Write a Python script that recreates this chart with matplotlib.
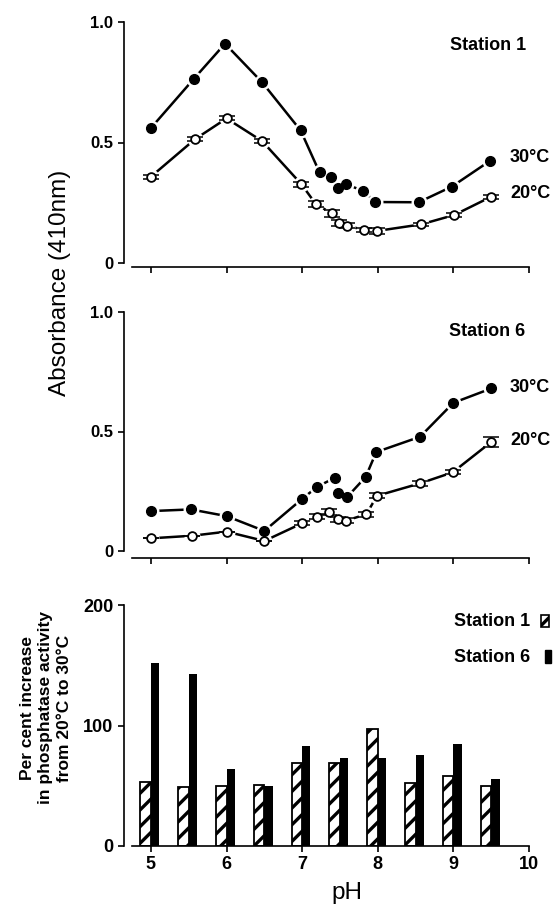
import numpy as np
import matplotlib.pyplot as plt
from matplotlib.patches import Rectangle

plt.rcParams['font.family'] = ['Liberation Sans', 'DejaVu Sans']
plt.rcParams['hatch.linewidth'] = 2.4

# Station 1 absorbance (410nm)
ph_s1_30 = [5.0, 5.57, 5.98, 6.47, 6.98, 7.23, 7.38, 7.48, 7.58, 7.8, 7.97, 8.54, 8.98, 9.49]
s1_30 = [0.56, 0.765, 0.91, 0.75, 0.55, 0.376, 0.358, 0.31, 0.327, 0.30, 0.253, 0.252, 0.317, 0.425]
ph_s1_20 = [5.0, 5.58, 6.0, 6.47, 6.99, 7.18, 7.39, 7.49, 7.59, 7.82, 7.99, 8.57, 9.01, 9.5]
s1_20 = [0.358, 0.513, 0.60, 0.506, 0.327, 0.245, 0.206, 0.167, 0.155, 0.137, 0.133, 0.16, 0.199, 0.275]
s1_20_err = [0.008, 0.008, 0.008, 0.01, 0.01, 0.012, 0.015, 0.012, 0.01, 0.008, 0.012, 0.008, 0.008, 0.008]

# Station 6 absorbance (410nm)
ph_s6_30 = [5.0, 5.53, 6.0, 6.5, 7.0, 7.2, 7.43, 7.48, 7.59, 7.84, 7.98, 8.56, 9.0, 9.5]
s6_30 = [0.167, 0.174, 0.146, 0.084, 0.218, 0.269, 0.306, 0.243, 0.224, 0.31, 0.414, 0.478, 0.62, 0.68]
ph_s6_20 = [5.0, 5.55, 6.0, 6.5, 7.0, 7.2, 7.36, 7.48, 7.58, 7.85, 7.99, 8.56, 8.99, 9.5]
s6_20 = [0.053, 0.064, 0.081, 0.042, 0.116, 0.144, 0.164, 0.133, 0.127, 0.154, 0.231, 0.283, 0.329, 0.456]
s6_20_err = [0, 0, 0, 0, 0.008, 0.012, 0.012, 0.01, 0.01, 0.01, 0.01, 0.01, 0.008, 0.022]

# per cent increase 20C -> 30C
ph_bars = [5.0, 5.5, 6.0, 6.5, 7.0, 7.5, 8.0, 8.5, 9.0, 9.5]
inc_s1 = [53, 49, 50, 50.5, 69, 68.5, 97.5, 52, 58, 50]
inc_s6 = [152, 142.5, 64, 50, 83, 73, 73, 75.5, 85, 56]

W, H = 559, 911
fig = plt.figure(figsize=(W / 100, H / 100), dpi=100)


def px_axes(top, bottom):
    return fig.add_axes([132 / W, 1 - bottom / H, 397 / W, (bottom - top) / H])


def style_axes(ax, yoff):
    ax.spines['top'].set_visible(False)
    ax.spines['right'].set_visible(False)
    ax.spines['left'].set_position(('outward', 6))
    ax.spines['bottom'].set_position(('outward', yoff))
    for s in ['left', 'bottom']:
        ax.spines[s].set_linewidth(1.2)
    ax.tick_params(direction='out', length=4, width=1.2)
    ax.set_xlim(4.75, 10.0)
    ax.set_xticks([5, 6, 7, 8, 9, 10])


def curve(ax, x, y, filled, err=None):
    ax.plot(x, y, '-', color='black', lw=1.8, zorder=1)
    ax.plot(x, y, 'o', color='white', ms=10.5, zorder=2)
    if err is not None:
        ax.errorbar(x, y, yerr=err, fmt='none', ecolor='black', elinewidth=1.1,
                    capsize=6, capthick=1.1, zorder=3)
    if filled:
        ax.plot(x, y, 'o', mfc='black', mec='black', ms=7, zorder=4)
    else:
        ax.plot(x, y, 'o', mfc='white', mec='black', mew=1.3, ms=6.3, zorder=4)


# top panel: station 1
ax1 = px_axes(22, 263)
style_axes(ax1, 3)
ax1.set_ylim(0, 1.0)
ax1.set_yticks([0, 0.5, 1.0])
ax1.set_yticklabels(['0', '0.5', '1.0'], fontsize=12, fontweight='bold')
ax1.set_xticklabels([])
curve(ax1, ph_s1_30, s1_30, True)
curve(ax1, ph_s1_20, s1_20, False, s1_20_err)

# middle panel: station 6
ax2 = px_axes(312, 551)
style_axes(ax2, 5)
ax2.set_ylim(0, 1.0)
ax2.set_yticks([0, 0.5, 1.0])
ax2.set_yticklabels(['0', '0.5', '1.0'], fontsize=12, fontweight='bold')
ax2.set_xticklabels([])
curve(ax2, ph_s6_30, s6_30, True)
curve(ax2, ph_s6_20, s6_20, False, s6_20_err)

# bottom panel: bars
ax3 = px_axes(605, 846)
style_axes(ax3, 0)
ax3.set_ylim(0, 200)
ax3.set_yticks([0, 100, 200])
ax3.set_yticklabels(['0', '100', '200'], fontsize=13, fontweight='bold')
ax3.set_xticklabels(['5', '6', '7', '8', '9', '10'], fontsize=13, fontweight='bold')
ax3.bar(np.array(ph_bars) - 0.14, inc_s1, width=0.14, align='edge',
        facecolor='white', edgecolor='black', hatch='//', linewidth=1.3)
ax3.bar(ph_bars, inc_s6, width=0.11, align='edge', color='black')

# text
fig.text(60 / W, 1 - 283 / H, 'Absorbance (410nm)', rotation=90, fontsize=17.5,
         ha='center', va='center')
fig.text(347 / W, 1 - 893 / H, 'pH', fontsize=17.5, ha='center', va='center')
fig.text(46 / W, 1 - 708 / H, 'Per cent increase\nin phosphatase activity\nfrom 20°C to 30°C',
         rotation=90, fontsize=12.5, fontweight='bold', ha='center', va='center',
         multialignment='center', linespacing=1.3)

bold = dict(fontsize=13, fontweight='bold', va='center')
fig.text(488 / W, 1 - 46 / H, 'Station 1', ha='center', **bold)
fig.text(510 / W, 1 - 157 / H, '30°C', ha='left', **bold)
fig.text(510 / W, 1 - 193 / H, '20°C', ha='left', **bold)
fig.text(487 / W, 1 - 332 / H, 'Station 6', ha='center', **bold)
fig.text(510 / W, 1 - 387 / H, '30°C', ha='left', **bold)
fig.text(510 / W, 1 - 440 / H, '20°C', ha='left', **bold)

# legend for bars
fig.text(530 / W, 1 - 621 / H, 'Station 1', ha='right', **bold)
fig.text(530 / W, 1 - 657 / H, 'Station 6', ha='right', **bold)
fig.patches.append(Rectangle((541 / W, 1 - 627 / H), 8 / W, 12 / H, transform=fig.transFigure,
                             facecolor='white', edgecolor='black', hatch='//', linewidth=1.2))
fig.patches.append(Rectangle((545 / W, 1 - 663 / H), 6 / W, 13 / H, transform=fig.transFigure,
                             facecolor='black', edgecolor='black'))

plt.savefig('out.png', dpi=100)
